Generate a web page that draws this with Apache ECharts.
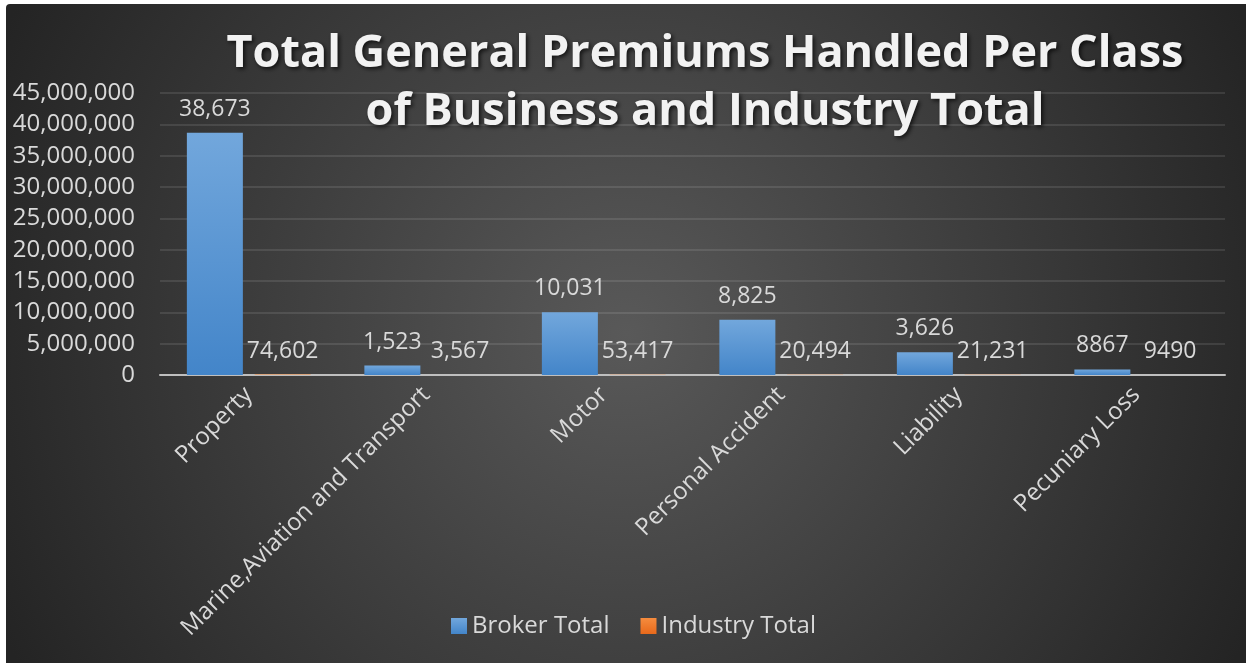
<!DOCTYPE html>
<html>
<head>
<meta charset="utf-8">
<title>Total General Premiums</title>
<script src="https://cdn.jsdelivr.net/npm/echarts@6/dist/echarts.min.js"></script>
<style>
    html, body { margin: 0; padding: 0; background: #fff; }
    #main { position: absolute; left: 6px; top: 4px; width: 1240px; height: 659px; border-top-left-radius: 4px; overflow: hidden; }
</style>
</head>
<body>
<div id="main"></div>
<script>
var categories = ['Property', 'Marine,Aviation and Transport', 'Motor', 'Personal Accident', 'Liability', 'Pecuniary Loss'];
var brokerTotal = [38673000, 1523000, 10031000, 8825000, 3626000, 886700];
var industryTotal = [74602, 3567, 53417, 20494, 21231, 9490];
var brokerLabels = ['38,673', '1,523', '10,031', '8,825', '3,626', '8867'];
var industryLabels = ['74,602', '3,567', '53,417', '20,494', '21,231', '9490'];

var myChart = echarts.init(document.getElementById('main'));
var txt = '#d9d9d9';
var font = '"Open Sans", "Noto Sans", sans-serif';

var option = {
    backgroundColor: new echarts.graphic.RadialGradient(0.5, 0.5, 1.05, [
        {offset: 0, color: '#595959'},
        {offset: 1, color: '#242424'}
    ]),
    textStyle: {fontFamily: font},
    title: {
        text: 'Total General Premiums Handled Per Class\nof Business and Industry Total',
        left: 694,
        top: 16,
        textAlign: 'center',
        textStyle: {
            color: '#f2f2f2',
            fontSize: 45,
            fontWeight: 'bold',
            fontFamily: font,
            lineHeight: 58,
            textShadowColor: 'rgba(0,0,0,0.7)',
            textShadowBlur: 4,
            textShadowOffsetX: 2,
            textShadowOffsetY: 2
        }
    },
    legend: {
        data: ['Broker Total', 'Industry Total'],
        left: 440,
        top: 605,
        itemWidth: 16,
        itemHeight: 16,
        itemGap: 31,
        icon: 'rect',
        textStyle: {color: txt, fontSize: 24, fontFamily: font}
    },
    grid: {
        left: 154,
        right: 21,
        top: 89,
        bottom: 288,
        containLabel: false
    },
    xAxis: {
        type: 'category',
        data: categories,
        axisLine: {lineStyle: {color: '#bfbfbf', width: 2}},
        axisTick: {show: false},
        axisLabel: {
            color: txt,
            fontSize: 24,
            rotate: 45,
            interval: 0,
            margin: 16
        }
    },
    yAxis: {
        type: 'value',
        min: 0,
        max: 45000000,
        interval: 5000000,
        axisLine: {show: false},
        axisTick: {show: false},
        splitLine: {lineStyle: {color: 'rgba(255,255,255,0.1)', width: 2}},
        axisLabel: {
            color: txt,
            fontSize: 24,
            margin: 25,
            formatter: function (v) {
                return v.toLocaleString('en-US');
            }
        }
    },
    series: [
        {
            name: 'Broker Total',
            type: 'bar',
            barWidth: 56,
            barGap: '21%',
            data: brokerTotal,
            itemStyle: {
                color: new echarts.graphic.LinearGradient(0, 0, 0, 1, [
                    {offset: 0, color: '#72a7dc'},
                    {offset: 1, color: '#4385c9'}
                ])
            },
            label: {
                show: true,
                position: 'top',
                distance: 12,
                color: txt,
                fontSize: 23,
                formatter: function (p) {
                    return brokerLabels[p.dataIndex];
                }
            }
        },
        {
            name: 'Industry Total',
            type: 'bar',
            barWidth: 56,
            data: industryTotal,
            itemStyle: {
                color: new echarts.graphic.LinearGradient(0, 0, 0, 1, [
                    {offset: 0, color: '#f68c3e'},
                    {offset: 1, color: '#e8691b'}
                ])
            },
            label: {
                show: true,
                position: 'top',
                distance: 12,
                color: txt,
                fontSize: 23,
                formatter: function (p) {
                    return industryLabels[p.dataIndex];
                }
            }
        }
    ]
};

myChart.setOption(option);
window.onresize = function () {
    myChart.resize();
};
</script>
</body>
</html>
